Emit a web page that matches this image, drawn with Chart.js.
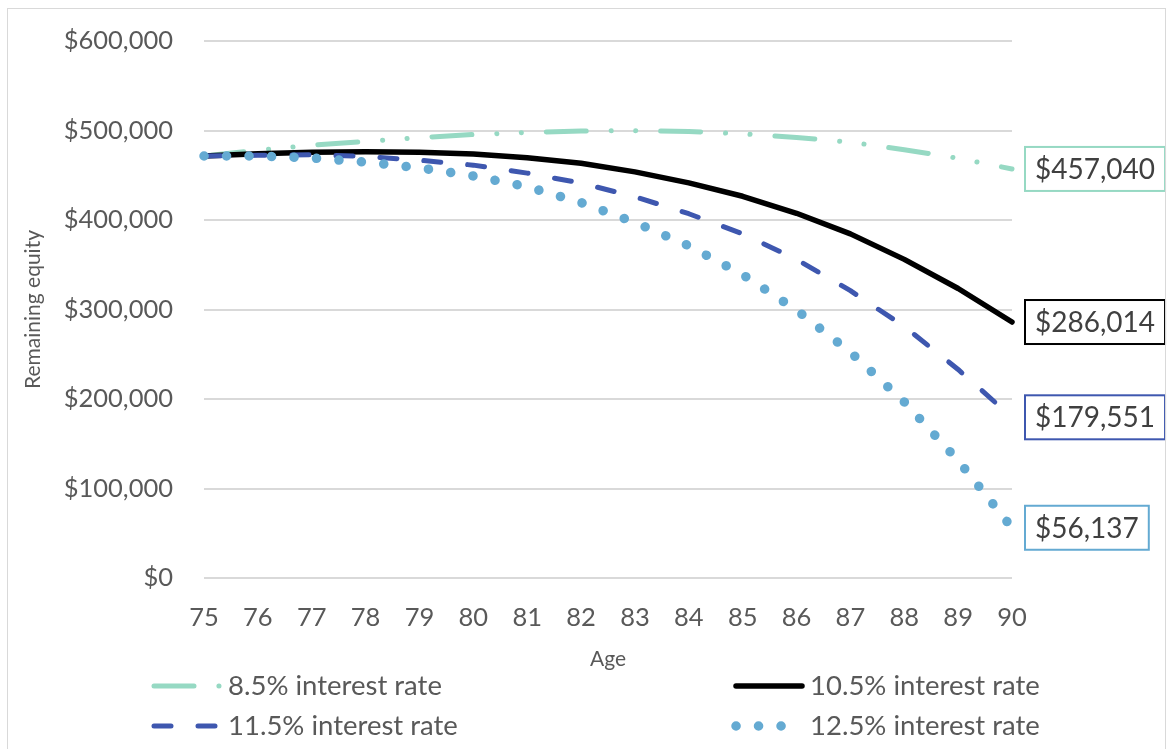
<!DOCTYPE html>
<html>
<head>
<meta charset="utf-8">
<title>Remaining equity by age</title>
<script src="https://cdn.jsdelivr.net/npm/chart.js@4.4.1/dist/chart.umd.min.js"></script>
<style>
  html, body { margin: 0; padding: 0; background: #ffffff; }
  #wrap { position: relative; width: 1172px; height: 749px; overflow: hidden; }
  #wrap canvas { position: absolute; left: 0; top: 0; }
  #frame {
    position: absolute; left: 7px; top: 8px; width: 1159px; height: 800px;
    border: 1.5px solid #d9d9d9; box-sizing: border-box; pointer-events: none;
  }
</style>
</head>
<body>
<div id="wrap">
  <canvas id="chart" width="1172" height="749"></canvas>
  <div id="frame"></div>
</div>
<script>
// Age of the borrower (years)
const ages = [75, 76, 77, 78, 79, 80, 81, 82, 83, 84, 85, 86, 87, 88, 89, 90];

// Remaining home equity ($) at each age, one array per interest rate
const equity85  = [471500, 478000, 483500, 487800, 492000, 495500, 497800, 499400, 499800, 499000, 496300, 492300, 486900, 478600, 469000, 457040];
const equity105 = [471500, 474000, 475600, 476200, 475700, 473700, 469500, 463500, 453800, 441500, 426500, 407500, 384500, 356000, 323500, 286014];
const equity115 = [471500, 472300, 472800, 471000, 466800, 461300, 452400, 441200, 426000, 407000, 384500, 356000, 321000, 281000, 233000, 179551];
const equity125 = [471500, 471500, 469300, 464700, 458300, 449200, 437200, 419500, 397300, 371200, 339000, 299300, 252400, 196700, 131300, 56137];

const seriesNames = ['8.5% interest rate', '10.5% interest rate', '11.5% interest rate', '12.5% interest rate'];

// Value-axis tick values
const yTicks = [0, 100000, 200000, 300000, 400000, 500000, 600000];

const money = v => '$' + Math.round(v).toLocaleString('en-US');

Chart.defaults.font.family = 'Lato, "Open Sans", sans-serif';

// Boxed value label at the last point of every series
const endLabels = {
  id: 'endLabels',
  afterDatasetsDraw(chart) {
    const ctx = chart.ctx;
    ctx.save();
    chart.data.datasets.forEach((ds, i) => {
      const meta = chart.getDatasetMeta(i);
      const pt = meta.data[meta.data.length - 1];
      const txt = money(ds.data[ds.data.length - 1]);
      ctx.font = '28px Lato, "Open Sans", sans-serif';
      const w = ctx.measureText(txt).width + 20;
      const h = 44;
      const bx = pt.x + 13;
      const by = pt.y - h / 2;
      ctx.setLineDash([]);
      ctx.fillStyle = '#ffffff';
      ctx.fillRect(bx, by, w, h);
      ctx.strokeStyle = ds.borderColor;
      ctx.lineWidth = 2;
      ctx.strokeRect(bx, by, w, h);
      ctx.fillStyle = '#404040';
      ctx.textAlign = 'left';
      ctx.textBaseline = 'middle';
      ctx.fillText(txt, bx + 10, pt.y + 1);
    });
    ctx.restore();
  }
};

// Two-column legend under the axis title
const gridLegend = {
  id: 'gridLegend',
  afterDraw(chart) {
    const ctx = chart.ctx;
    const slots = [
      { x: 154, y: 686 }, { x: 736, y: 686 },
      { x: 154, y: 726 }, { x: 736, y: 726 }
    ];
    ctx.save();
    chart.data.datasets.forEach((ds, i) => {
      const s = slots[i];
      ctx.beginPath();
      ctx.setLineDash(ds.borderDash || []);
      ctx.lineDashOffset = 0;
      ctx.lineCap = 'round';
      ctx.strokeStyle = ds.borderColor;
      ctx.lineWidth = ds.borderWidth;
      ctx.moveTo(s.x, s.y);
      ctx.lineTo(s.x + 66, s.y);
      ctx.stroke();
      ctx.setLineDash([]);
      ctx.fillStyle = '#595959';
      ctx.font = '27.5px Lato, "Open Sans", sans-serif';
      ctx.textAlign = 'left';
      ctx.textBaseline = 'middle';
      ctx.fillText(ds.label, s.x + 74, s.y);
    });
    ctx.restore();
  }
};

new Chart(document.getElementById('chart'), {
  type: 'line',
  data: {
    labels: ages,
    datasets: [
      {
        label: seriesNames[0], data: equity85, order: 4,
        borderColor: '#96d9c3', borderWidth: 5,
        borderDash: [40, 24.9, 0.1, 24.4, 0.1, 24.9]
      },
      {
        label: seriesNames[1], data: equity105, order: 3,
        borderColor: '#000000', borderWidth: 5.5
      },
      {
        label: seriesNames[2], data: equity115, order: 2,
        borderColor: '#3e57af', borderWidth: 5,
        borderDash: [17, 27]
      },
      {
        label: seriesNames[3], data: equity125, order: 1,
        borderColor: '#64aad2', borderWidth: 9.5,
        borderDash: [0.1, 22.4]
      }
    ]
  },
  options: {
    responsive: false,
    animation: false,
    devicePixelRatio: 1,
    layout: { padding: { left: 8, right: 160, top: 41, bottom: 73 } },
    datasets: { line: { clip: 14 } },
    elements: {
      point: { radius: 0, hoverRadius: 0 },
      line: { tension: 0, fill: false, borderCapStyle: 'round', borderJoinStyle: 'round' }
    },
    plugins: {
      legend: { display: false },
      tooltip: { enabled: false }
    },
    scales: {
      x: {
        type: 'category',
        offset: false,
        grid: { display: false, drawTicks: false },
        border: { display: false },
        ticks: { padding: 24, color: '#595959', font: { size: 25.5 }, maxRotation: 0, autoSkip: false },
        title: { display: true, text: 'Age', color: '#595959', font: { size: 21 }, padding: { top: 0, bottom: 4 } },
        afterFit(s) { s.height = 98; }
      },
      y: {
        min: 0,
        max: 600000,
        afterBuildTicks(s) { s.ticks = yTicks.map(v => ({ value: v })); },
        ticks: { padding: 31, color: '#595959', font: { size: 25.5 }, callback: v => money(v) },
        grid: { color: '#d9d9d9', lineWidth: 2, drawTicks: false },
        border: { display: false },
        title: { display: true, text: 'Remaining equity', color: '#595959', font: { size: 21 }, padding: { top: 13, bottom: 0 } },
        afterFit(s) { s.width = 196; s.paddingTop = 0; s.paddingBottom = 0; }
      }
    }
  },
  plugins: [endLabels, gridLegend]
});
</script>
</body>
</html>
